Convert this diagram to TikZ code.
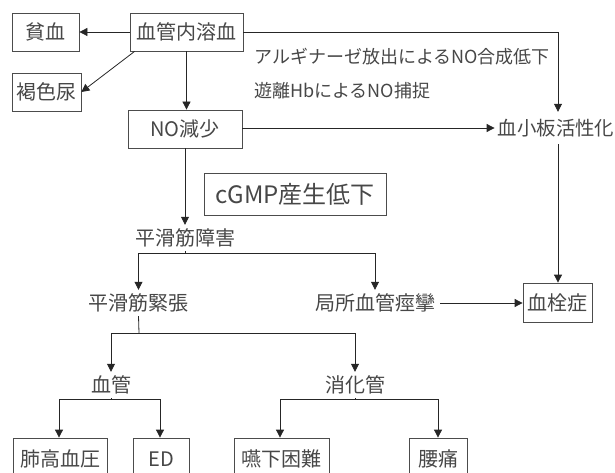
\documentclass[tikz,border=0pt]{standalone}
\usepackage{fontspec}
\setmainfont{Noto Sans CJK JP}
\usetikzlibrary{arrows.meta}
\begin{document}
\begin{tikzpicture}[x=1pt,y=-1pt,
  every node/.style={text=black!72,font=\fontsize{20}{22}\selectfont},
  box/.style={draw=black!70,line width=0.8pt,minimum height=38pt,inner sep=0pt},
  lbl/.style={inner xsep=4pt,inner ysep=0pt,minimum height=26pt},
  note/.style={inner sep=0pt,anchor=west,font=\fontsize{18}{20}\selectfont},
  conn/.style={draw=black!85,line width=0.8pt},
  arr/.style={conn,-{Triangle[length=8pt,width=8pt]}}]
\useasboundingbox (0,0) rectangle (615,473);
\clip (0,0) rectangle (615,473);
% boxes
\node[box,minimum width=67pt] (anemia) at (45.5,32) {貧血};
\node[box,minimum width=113pt] (hemo) at (186.5,32) {血管内溶血};
\node[box,minimum width=69pt] (urine) at (46.5,92) {褐色尿};
\node[box,minimum width=114pt] (no) at (185,129) {NO減少};
\node[box,minimum width=182pt,minimum height=42pt,font=\fontsize{24}{26}\selectfont] (cgmp) at (295,194) {cGMP産生低下};
\node[box,minimum width=69pt,minimum height=39pt] (thromb) at (557.5,302.5) {血栓症};
\node[box,minimum width=94pt,minimum height=42pt] (ph) at (60,459) {肺高血圧};
\node[box,minimum width=56pt,minimum height=42pt] (ed) at (161,459) {ED};
\node[box,minimum width=95pt,minimum height=42pt] (dys) at (281.5,459) {嚥下困難};
\node[box,minimum width=58pt,minimum height=42pt] (back) at (438,459) {腰痛};
% text nodes
\node[lbl,minimum height=32pt,inner xsep=3pt,font=\fontsize{19.4}{21}\selectfont] (plt) at (556,128) {血小板活性化};
\node[lbl] (smd) at (185,238) {平滑筋障害};
\node[lbl] (smt) at (138.5,303) {平滑筋緊張};
\node[lbl,inner xsep=5pt] (spasm) at (375,303) {局所血管痙攣};
\node[lbl] (vas) at (111,385) {血管};
\node[lbl] (gi) at (355,385) {消化管};
\node[note] (n1) at (254,57) {アルギナーゼ放出によるNO合成低下};
\node[note] (n2) at (254,91) {遊離HbによるNO捕捉};
% junction coordinates
\coordinate (j1) at (185,253);
\coordinate (j2) at (139,333);
\coordinate (j3) at (111,399);
\coordinate (j4) at (355,399);
\coordinate (pv) at (558,0);
% connectors
\draw[arr] (hemo.west) -- (anemia.east);
\draw[arr] ([xshift=5pt]hemo.south west) -- (urine.east);
\draw[arr] (hemo.south) -- (hemo.south |- no.north);
\draw[arr] (hemo.east) -| (pv |- plt.north);
\draw[arr] (no.east |- plt.west) -- (plt.west);
\draw[arr] (pv |- plt.south) -- (pv |- thromb.north);
\draw[arr] (no.south) -- (smd.north);
\draw[conn] (smd.south) -- (j1);
\draw[arr] (j1) -| (smt.north);
\draw[arr] (j1) -| (spasm.north);
\draw[arr] (spasm.east) -- (thromb.west |- spasm.east);
\draw[conn] (smt.south) -- (j2);
\draw[arr] (j2) -| (vas.north);
\draw[arr] (j2) -| (gi.north);
\draw[conn] (vas.south) -- (j3);
\draw[arr] (j3) -| ([xshift=-1pt]ph.north);
\draw[arr] (j3) -| ([xshift=-1pt]ed.north);
\draw[conn] (gi.south) -- (j4);
\draw[arr] (j4) -| ([xshift=-1.5pt]dys.north);
\draw[arr] (j4) -| (back.north);
\end{tikzpicture}
\end{document}
